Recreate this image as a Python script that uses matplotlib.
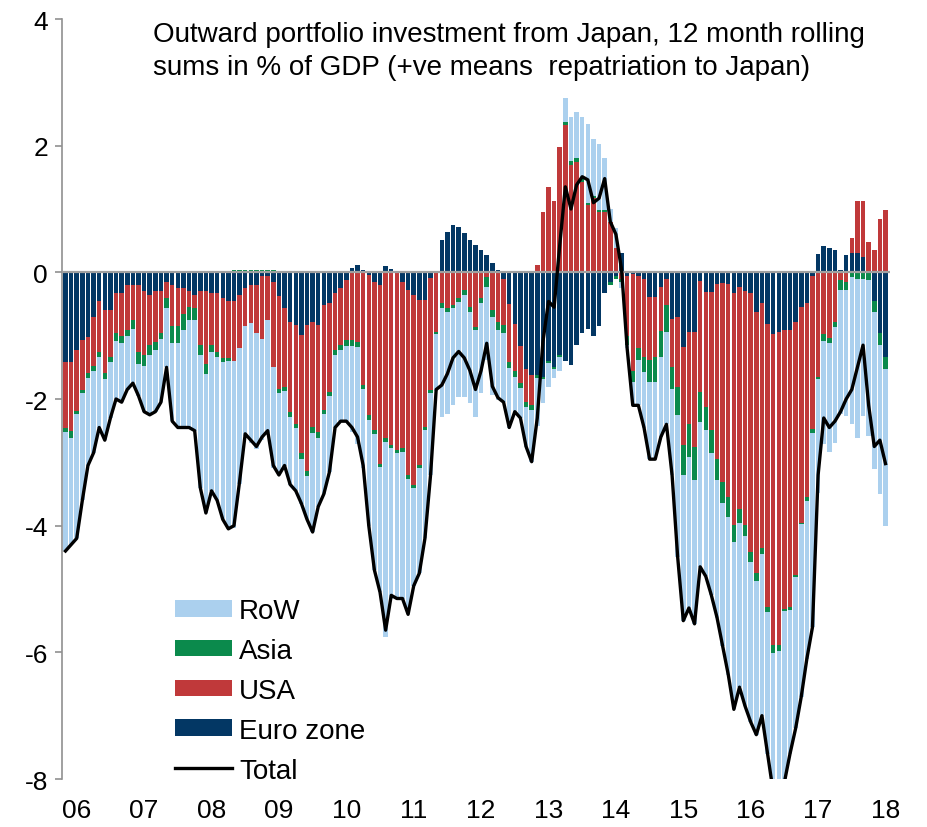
import numpy as np
import matplotlib
matplotlib.use("Agg")
import matplotlib.pyplot as plt
from matplotlib.patches import Patch
from matplotlib.lines import Line2D

plt.rcParams['font.family'] = ['Liberation Sans', 'DejaVu Sans']
plt.rcParams['axes.unicode_minus'] = False

# monthly values, Jan 2006 .. Mar 2018, % of GDP (12m rolling sums)
euro_zone = [
    -1.42, -1.42, -1.23, -1.07, -1.02, -0.70, -0.46, -0.59, -0.59, -0.33, -0.33, -0.20,
    -0.20, -0.20, -0.30, -0.35, -0.30, -0.30, -0.15, -0.20, -0.25, -0.25, -0.30, -0.35,
    -0.30, -0.30, -0.32, -0.32, -0.40, -0.45, -0.45, -0.35, -0.25, -0.20, -0.20, -0.05,
    -0.05, -0.15, -0.38, -0.57, -0.78, -0.83, -0.99, -0.83, -0.78, -0.83, -0.52, -0.49,
    -0.33, -0.25, -0.12, 0.07, 0.11, 0.04, -0.04, -0.15, -0.20, 0.10, 0.05, 0.00,
    -0.15, -0.28, -0.36, -0.44, -0.44, -0.09, 0.02, 0.51, 0.64, 0.75, 0.72, 0.62,
    0.51, 0.43, 0.35, 0.27, 0.14, 0.04, -0.10, -0.50, -0.81, -1.17, -1.52, -1.62,
    -1.62, -1.65, -1.40, -1.50, -1.30, -1.40, -1.46, -1.15, -0.95, -0.89, -1.00, -0.85,
    -0.32, -0.15, -0.05, 0.30, -0.05, -0.02, -0.05, -0.10, -0.39, -0.39, -0.23, -0.10,
    -0.73, -0.71, -1.18, -0.94, -0.94, -0.13, -0.31, -0.31, -0.18, -0.17, -0.18, -0.33,
    -0.23, -0.30, -0.33, -0.63, -0.48, -0.82, -0.97, -0.94, -0.91, -0.91, -0.79, -0.54,
    -0.48, -0.05, 0.29, 0.41, 0.38, 0.35, 0.04, 0.27, 0.30, 0.30, 0.25, 0.00,
    -0.46, -0.96, -1.33,
]
usa = [
    -1.04, -1.09, -0.96, -0.78, -0.57, -0.78, -0.79, -1.00, -0.74, -0.63, -0.68, -0.71,
    -0.55, -1.05, -1.00, -0.80, -0.80, -0.65, -0.26, -0.65, -0.60, -0.40, -0.25, -0.22,
    -0.85, -1.15, -0.83, -0.93, -0.95, -0.90, -0.95, -0.85, -0.60, -0.60, -0.75, -1.00,
    -0.70, -1.35, -1.46, -1.24, -1.43, -1.56, -1.87, -2.30, -1.66, -1.69, -1.66, -1.40,
    -0.90, -0.90, -0.95, -1.07, -1.10, -1.78, -2.22, -2.34, -2.82, -2.62, -2.72, -2.80,
    -2.63, -2.92, -2.99, -2.60, -2.00, -1.77, -0.94, -0.49, -0.57, -0.52, -0.41, -0.28,
    -0.54, -0.86, -0.41, -0.07, -0.60, -0.78, -0.73, -0.91, -0.74, -0.58, -0.53, -0.48,
    0.12, 0.96, 1.35, 1.12, 1.98, 2.33, 1.70, 1.75, 1.43, 1.06, 1.17, 0.96,
    0.96, 0.80, 0.38, -0.10, -0.95, -1.53, -1.15, -1.24, -1.00, -0.95, -0.69, -0.42,
    -0.76, -1.10, -1.55, -1.45, -1.82, -1.76, -1.82, -2.18, -2.76, -3.14, -3.37, -3.66,
    -3.51, -3.69, -4.09, -4.12, -3.87, -4.46, -4.92, -4.95, -4.40, -4.37, -3.99, -3.41,
    -3.07, -2.43, -1.65, -0.97, -1.03, -0.79, -0.12, -0.15, 0.24, 0.82, 0.87, 0.48,
    0.35, 0.85, 0.98,
]
asia = [
    -0.06, -0.10, -0.05, -0.06, -0.08, -0.08, -0.08, -0.09, -0.08, -0.13, -0.10, -0.10,
    -0.15, -0.20, -0.18, -0.15, -0.12, -0.10, -0.15, -0.26, -0.26, -0.26, -0.21, -0.18,
    -0.15, -0.15, -0.10, -0.08, -0.06, -0.05, 0.04, 0.04, 0.04, 0.04, 0.04, 0.04,
    0.04, 0.04, -0.07, -0.07, -0.07, -0.06, -0.08, -0.08, -0.10, -0.10, -0.06, -0.06,
    -0.08, -0.08, -0.10, -0.10, -0.08, -0.06, -0.07, -0.07, -0.06, -0.06, -0.06, -0.06,
    -0.06, -0.06, -0.05, -0.05, -0.05, -0.04, -0.04, -0.08, -0.06, -0.04, -0.06, -0.08,
    -0.08, -0.05, -0.08, -0.16, -0.10, -0.13, -0.13, -0.10, -0.10, -0.08, -0.08, -0.08,
    -0.05, -0.03, -0.03, -0.03, -0.03, 0.05, 0.06, 0.05, 0.05, 0.03, 0.03, 0.03,
    0.03, -0.05, -0.05, -0.05, -0.15, -0.18, -0.19, -0.23, -0.34, -0.39, -0.42, -0.42,
    -0.35, -0.45, -0.47, -0.53, -0.52, -0.47, -0.36, -0.37, -0.34, -0.33, -0.31, -0.27,
    -0.21, -0.18, -0.15, -0.12, -0.10, -0.09, -0.12, -0.09, -0.03, -0.05, -0.03, -0.03,
    -0.06, -0.06, -0.03, -0.12, -0.08, -0.08, -0.16, -0.13, -0.08, -0.10, -0.10, -0.12,
    -0.16, -0.19, -0.19,
]
row = [
    -1.88, -1.69, -1.96, -1.69, -1.38, -1.29, -1.12, -0.97, -0.89, -0.91, -0.94, -0.84,
    -0.85, -0.50, -0.72, -0.95, -0.98, -1.00, -0.94, -1.24, -1.34, -1.54, -1.69, -1.75,
    -2.10, -2.20, -2.20, -2.27, -2.49, -2.65, -2.64, -2.14, -1.74, -1.89, -1.84, -1.59,
    -1.79, -1.59, -1.29, -1.17, -1.07, -1.00, -0.71, -0.69, -1.56, -1.08, -1.26, -1.20,
    -1.14, -1.12, -1.18, -1.35, -1.53, -1.25, -1.67, -2.14, -1.97, -3.07, -2.37, -2.29,
    -2.31, -2.14, -1.55, -1.66, -1.71, -1.30, -0.89, -1.72, -1.61, -1.54, -1.50, -1.61,
    -1.44, -1.37, -1.41, -1.16, -1.24, -1.11, -1.09, -0.94, -0.55, -0.47, -0.62, -0.81,
    -0.75, -0.38, -0.38, -0.14, -0.22, 0.37, 0.70, 0.73, 0.98, 1.26, 0.90, 1.03,
    0.81, 0.20, 0.32, -0.10, -0.05, -0.37, -0.71, -0.88, -1.22, -1.22, -1.26, -1.46,
    -1.36, -2.24, -2.30, -2.38, -2.27, -2.29, -2.31, -2.24, -2.17, -2.26, -2.49, -2.64,
    -2.60, -2.68, -2.53, -2.43, -2.55, -2.23, -2.19, -2.42, -2.71, -2.27, -2.39, -2.72,
    -2.49, -3.06, -1.81, -1.62, -1.72, -1.83, -1.96, -1.99, -2.31, -2.52, -2.17, -2.46,
    -2.48, -2.35, -2.48,
]
total = [
    -4.40, -4.30, -4.20, -3.60, -3.05, -2.85, -2.45, -2.65, -2.30, -2.00, -2.05, -1.85,
    -1.75, -1.95, -2.20, -2.25, -2.20, -2.05, -1.50, -2.35, -2.45, -2.45, -2.45, -2.50,
    -3.40, -3.80, -3.45, -3.60, -3.90, -4.05, -4.00, -3.30, -2.55, -2.65, -2.75, -2.60,
    -2.50, -3.05, -3.20, -3.05, -3.35, -3.45, -3.65, -3.90, -4.10, -3.70, -3.50, -3.15,
    -2.45, -2.35, -2.35, -2.45, -2.60, -3.05, -4.00, -4.70, -5.05, -5.65, -5.10, -5.15,
    -5.15, -5.40, -4.95, -4.75, -4.20, -3.20, -1.85, -1.78, -1.60, -1.35, -1.25, -1.35,
    -1.55, -1.85, -1.55, -1.12, -1.80, -1.98, -2.05, -2.45, -2.20, -2.30, -2.75, -2.99,
    -2.30, -1.10, -0.46, -0.55, 0.43, 1.35, 1.00, 1.38, 1.51, 1.46, 1.10, 1.17,
    1.48, 0.80, 0.60, 0.05, -1.20, -2.10, -2.10, -2.45, -2.95, -2.95, -2.60, -2.40,
    -3.20, -4.50, -5.50, -5.30, -5.55, -4.65, -4.80, -5.10, -5.45, -5.90, -6.35, -6.90,
    -6.55, -6.85, -7.10, -7.30, -7.00, -7.60, -8.20, -8.40, -8.05, -7.60, -7.20, -6.70,
    -6.10, -5.60, -3.20, -2.30, -2.45, -2.35, -2.20, -2.00, -1.85, -1.50, -1.15, -2.10,
    -2.75, -2.65, -3.02,
]
year_labels = ['06', '07', '08', '09', '10', '11', '12', '13', '14', '15', '16', '17', '18']

c_row = '#abd0ee'
c_asia = '#0b8a4c'
c_usa = '#c0393a'
c_euro = '#033764'

fig = plt.figure(figsize=(9.28, 8.28), dpi=100)
ax = fig.add_axes([62 / 928, 48 / 828, 828 / 928, 760 / 828])

x = np.arange(len(total))
pos = np.zeros(len(x))
neg = np.zeros(len(x))
for vals, col in [(euro_zone, c_euro), (usa, c_usa), (asia, c_asia), (row, c_row)]:
    v = np.array(vals)
    base = np.where(v >= 0, pos, neg)
    ax.bar(x, v, bottom=base, width=0.8, color=col, linewidth=0, zorder=2)
    pos = pos + np.clip(v, 0, None)
    neg = neg + np.clip(v, None, 0)

ax.axhline(0, color='#a0a0a0', lw=1.6, zorder=3)
ax.plot(x, total, color='black', lw=2.4, zorder=4, solid_joinstyle='round')

ax.set_xlim(-0.62, 146.8)
ax.set_ylim(-8, 4)
ax.set_yticks([4, 2, 0, -2, -4, -6, -8])
ax.set_yticklabels(['4', '2', '0', '-2', '-4', '-6', '-8'])
ax.set_xticks(np.arange(2, len(total) + 1, 12))
ax.set_xticklabels(year_labels)
ax.tick_params(axis='x', length=0, pad=14, labelsize=19)
ax.tick_params(axis='y', direction='out', length=5, width=1.2, color='#909090',
               pad=5, labelsize=19)
for s in ['top', 'right', 'bottom']:
    ax.spines[s].set_visible(False)
ax.spines['left'].set_color('#909090')
ax.spines['left'].set_linewidth(1.2)

fig.text(153 / 928, 1 - 35 / 828, 'Outward portfolio investment from Japan, 12 month rolling',
         ha='left', va='center', fontsize=20)
fig.text(153 / 928, 1 - 68 / 828, 'sums in % of GDP (+ve means  repatriation to Japan)',
         ha='left', va='center', fontsize=20)

handles = [
    Patch(facecolor=c_row, label='RoW'),
    Patch(facecolor=c_asia, label='Asia'),
    Patch(facecolor=c_usa, label='USA'),
    Patch(facecolor=c_euro, label='Euro zone'),
    Line2D([0], [0], color='black', lw=2.4, label='Total'),
]
ax.legend(handles=handles, loc='lower left', bbox_to_anchor=(0.1365, -0.006),
          frameon=False, fontsize=20, handlelength=2.05, handleheight=0.55,
          handletextpad=0.25, labelspacing=0.5, borderpad=0, borderaxespad=0)

fig.savefig('out.png', dpi=100)
